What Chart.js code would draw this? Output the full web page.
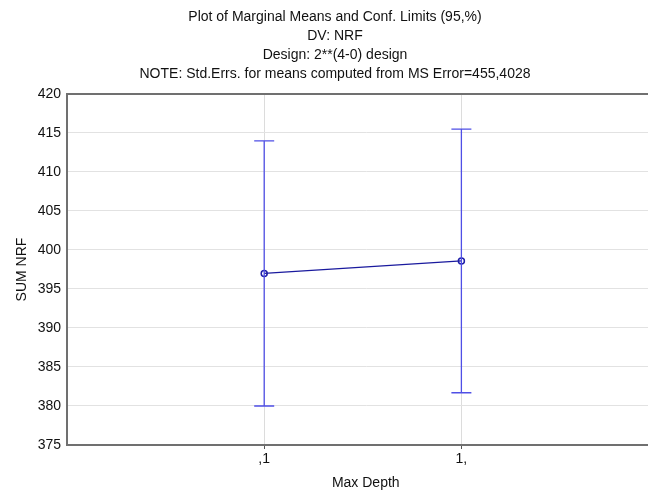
<!DOCTYPE html>
<html>
<head>
<meta charset="utf-8">
<script src="https://cdn.jsdelivr.net/npm/chart.js@4/dist/chart.umd.min.js"></script>
<style>
html,body{margin:0;padding:0;background:#fff;overflow:hidden;}
#wrap{width:670px;height:493px;}
</style>
</head>
<body>
<div id="wrap"><canvas id="graph" width="670" height="493"></canvas></div>
<script>
// data
var categories=[",1","1,"];
var means=[397.0,398.6];
var lowerCL=[380.0,381.7];
var upperCL=[414.0,415.5];
var yTicks=[375,380,385,390,395,400,405,410,415,420];
var titleLines=["Plot of Marginal Means and Conf. Limits (95,%)","DV: NRF","Design: 2**(4-0) design","NOTE: Std.Errs. for means computed from MS Error=455,4028"];

var pts=[];
for(var i=0;i<categories.length;i++){
    pts.push({x:i+1,y:means[i]});
}

var errBars={
  id:"errBars",
  afterDatasetsDraw:function(chart){
    var ctx=chart.ctx;
    var xs=chart.scales.x, ys=chart.scales.y, a=chart.chartArea;
    ctx.save();
    // top frame line
    ctx.strokeStyle="#707070";
    ctx.lineWidth=2;
    ctx.beginPath();
    ctx.moveTo(a.left,a.top);
    ctx.lineTo(a.right,a.top);
    ctx.stroke();
    ctx.strokeStyle="#4f4fe6";
    ctx.lineWidth=1.3;
    for(var i=0;i<categories.length;i++){
        var px=xs.getPixelForValue(i+1);
        var lo=ys.getPixelForValue(lowerCL[i]);
        var hi=ys.getPixelForValue(upperCL[i]);
        ctx.beginPath();
        ctx.moveTo(px,lo);ctx.lineTo(px,hi);
        ctx.moveTo(px-10,lo);ctx.lineTo(px+10,lo);
        ctx.moveTo(px-10,hi);ctx.lineTo(px+10,hi);
        ctx.stroke();
    }
    ctx.restore();
  }
};

new Chart("graph",{
  type:"line",
  data:{
    datasets:[{
      data:pts,
      borderColor:"#1a1a9e",
      borderWidth:1.2,
      pointRadius:3,
      pointBorderWidth:1.5,
      pointBorderColor:"#1e1ea8",
      pointBackgroundColor:"rgba(0,0,0,0)",
      fill:false
    }]
  },
  options:{
    responsive:false,
    animation:false,
    layout:{padding:{left:0,right:0,top:0,bottom:0}},
    plugins:{
      legend:{display:false},
      tooltip:{enabled:false},
      title:{
        display:true,
        text:titleLines,
        color:"#111",
        font:{family:"Liberation Sans",size:14,weight:"normal",lineHeight:1.357},
        padding:{top:7.5,bottom:10.5}
      }
    },
    scales:{
      x:{
        type:"linear",
        min:0,max:3.03,
        afterFit:function(s){s.height=48;},
        afterBuildTicks:function(s){
          s.ticks=categories.map(function(c,i){return {value:i+1};});
        },
        ticks:{
          color:"#111",
          font:{family:"Liberation Sans",size:14},
          padding:2,
          maxRotation:0,
          callback:function(v){return categories[v-1];}
        },
        grid:{color:"#dcdcdc",tickColor:"#555",tickLength:4,lineWidth:1},
        border:{color:"#707070",width:2},
        title:{display:true,text:"Max Depth",color:"#111",font:{family:"Liberation Sans",size:14},padding:{top:0,bottom:1}}
      },
      y:{
        min:375,max:420,
        afterFit:function(s){s.width=67;},
        afterBuildTicks:function(s){
          s.ticks=yTicks.map(function(v){return {value:v};});
        },
        ticks:{color:"#111",font:{family:"Liberation Sans",size:14},padding:6},
        grid:{color:"#e2e2e2",drawTicks:false,lineWidth:1},
        border:{color:"#707070",width:2},
        title:{display:true,text:"SUM NRF",color:"#111",font:{family:"Liberation Sans",size:14},padding:{top:14,bottom:0}}
      }
    }
  },
  plugins:[errBars]
});
</script>
</body>
</html>
